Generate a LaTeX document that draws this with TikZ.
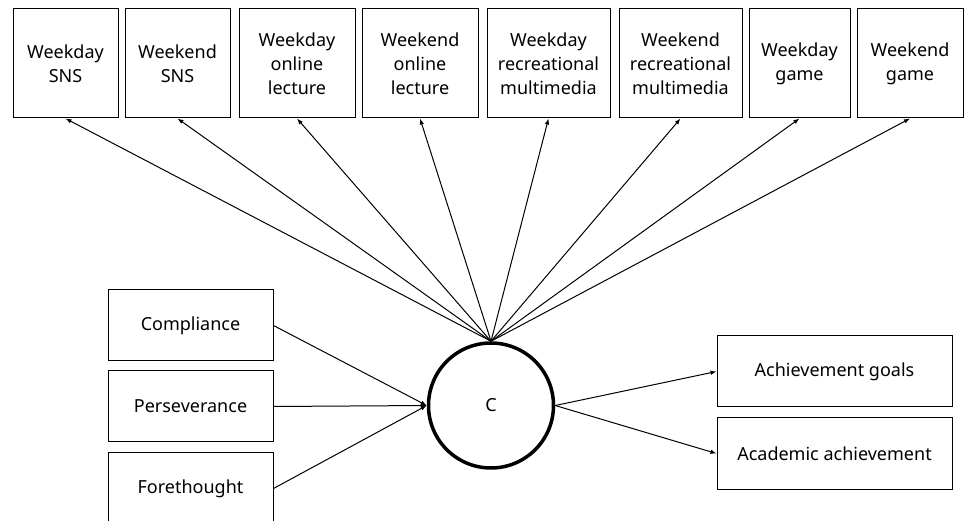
\documentclass[tikz,border=0pt]{standalone}
\usepackage{fontspec}
\setmainfont{Noto Sans}
\usetikzlibrary{arrows.meta, positioning}
\tikzset{
	varbox/.style={draw, line width=1pt, align=center, font=\fontsize{18}{24}\selectfont, inner sep=0pt}
}
\tikzset{
	latent/.style={draw, circle, line width=3.5pt, minimum size=125pt, font=\fontsize{18}{22}\selectfont}
}
\tikzset{
	path/.style={line width=1pt, -{Latex[length=6pt,width=4.5pt]}}
}

\begin{document}
\begin{tikzpicture}[x=1pt, y=-1pt]
      \useasboundingbox (0,0) rectangle (970,521);
      \clip (0,0) rectangle (970,521);
      % media use (top row)
      \foreach \n/\x/\w/\t in {t1/65.5/105/{Weekday\\SNS}, t2/177.5/105/{Weekend\\SNS},
          t3/297/116/{Weekday\\online\\lecture}, t4/420/116/{Weekend\\online\\lecture},
          t5/548.5/123/{Weekday\\recreational\\multimedia}, t6/680.5/123/{Weekend\\recreational\\multimedia},
          t7/799.5/101/{Weekday\\game}, t8/910/106/{Weekend\\game}}
        \node[varbox, minimum width=\w pt, minimum height=109pt] (\n) at (\x,63.5) {\t};
      % latent factor
      \node[latent] (c) at (491,405.5) {C};
      % indicators
      \foreach \n/\y/\t in {comp/325.5/Compliance, pers/406.5/Perseverance, fore/488.5/Forethought}
        \node[varbox, minimum width=165pt, minimum height=71pt] (\n) at (190.5,\y) {\t};
      % outcomes
      \node[varbox, minimum width=235pt, minimum height=71pt] (goal) at (834.5,371.5) {Achievement goals};
      \node[varbox, minimum width=235pt, minimum height=71pt] (acad) at (834.5,453.5) {Academic achievement};
      \foreach \n in {t1,t2,t3,t4,t5,t6,t7,t8}
        \draw[path] (c.north) -- (\n.south);
      \foreach \n in {comp,pers,fore}
        \draw[path] (\n.east) -- (c.west);
      \draw[path] (c.east) -- (goal.west);
      \draw[path] (c.east) -- (acad.west);
\end{tikzpicture}
\end{document}
